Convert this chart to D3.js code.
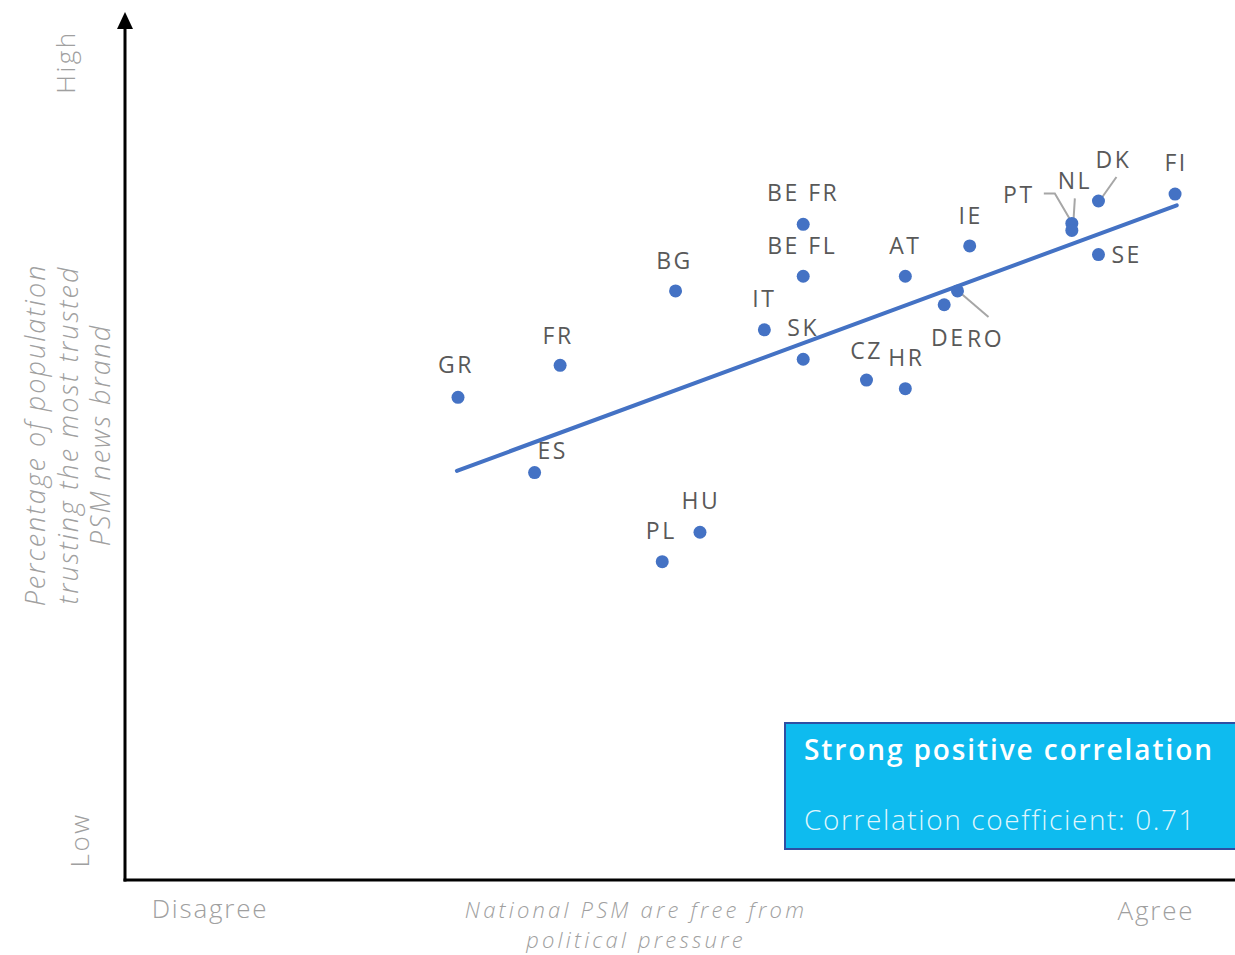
<!DOCTYPE html>
<html>
<head>
<meta charset="utf-8">
<script src="https://cdn.jsdelivr.net/npm/d3@7"></script>
<style>
  body { margin: 0; background: #ffffff; }
  svg { display: block; }
</style>
</head>
<body>
<svg id="chart" width="1235" height="955"></svg>
<script>
// Countries (and Belgian communities) plotted
const countries = ["GR", "FR", "ES", "BG", "PL", "HU", "IT", "SK", "BE FR", "BE FL",
                   "CZ", "HR", "AT", "IE", "DE", "RO", "PT", "NL", "DK", "SE", "FI"];
// Agreement that national PSM are free from political pressure (relative scale 0-100)
const freedomScores = [30.0, 39.2, 36.9, 49.6, 48.4, 51.8, 57.6, 61.1, 61.1, 61.1,
                       66.8, 70.3, 70.3, 76.1, 73.8, 75.0, 85.3, 85.3, 87.7, 87.7, 94.6];
// Share of population trusting the most trusted PSM news brand (relative scale 0-100)
const trustScores = [55.8, 59.5, 47.1, 68.1, 36.8, 40.2, 63.6, 60.2, 75.8, 69.8,
                     57.8, 56.8, 69.8, 73.3, 66.5, 68.1, 75.9, 75.1, 78.5, 72.3, 79.3];
// Linear trend endpoints
const trendX = [29.9, 94.75];
const trendY = [47.3, 78.0];
const correlation = 0.71;

// Label placement (centre of label relative to the dot)
const labelPos = {
  "GR": [-2, -32], "FR": [-2, -29], "ES": [18, -22], "BG": [-1, -30],
  "PL": [-1, -31], "HU": [1, -31], "IT": [0, -31], "SK": [0, -31],
  "BE FR": [0, -31], "BE FL": [-1, -30], "CZ": [0, -29], "HR": [1, -31],
  "AT": [0, -30], "IE": [1, -30], "DE": [4, 33], "RO": [28, 48],
  "PT": [-53, -28], "NL": [3, -49], "DK": [15, -41], "SE": [13, 0, "start"],
  "FI": [1, -31]
};
// Leader lines for crowded points (offsets from the dot)
const leaders = {
  "PT": [[-28, -30], [-17, -30], [0, -1]],
  "NL": [[3, -32], [1, 0]],
  "DK": [[18, -24], [1, 0]],
  "RO": [[3, 2], [31, 26]]
};

const width = 1235, height = 955;
const svg = d3.select("#chart");

const x = d3.scaleLinear().domain([0, 100]).range([125, 1235]);
const y = d3.scaleLinear().domain([0, 100]).range([880, 15]);

const blue = "#4472c4";
const font = "'Open Sans', Lato, sans-serif";
const axisGray = "#a0a0a0";

// Axes: vertical with arrow head, horizontal to the edge
svg.append("line")
  .attr("x1", x(0)).attr("x2", x(0))
  .attr("y1", y(0) + 1.5).attr("y2", 26)
  .attr("stroke", "#000").attr("stroke-width", 3);
svg.append("path")
  .attr("d", `M${x(0) - 8},29 L${x(0)},12 L${x(0) + 8},29 Z`)
  .attr("fill", "#000");
svg.append("line")
  .attr("x1", x(0) - 1.5).attr("x2", width)
  .attr("y1", y(0)).attr("y2", y(0))
  .attr("stroke", "#000").attr("stroke-width", 3);

// Y-axis end labels
svg.append("text")
  .attr("transform", `translate(75,62) rotate(-90)`)
  .attr("text-anchor", "middle")
  .attr("font-family", font).attr("font-weight", 300)
  .attr("font-size", 26).attr("letter-spacing", 2.5)
  .attr("fill", axisGray).text("High");
svg.append("text")
  .attr("transform", `translate(89,840) rotate(-90)`)
  .attr("text-anchor", "middle")
  .attr("font-family", font).attr("font-weight", 300)
  .attr("font-size", 26).attr("letter-spacing", 2.5)
  .attr("fill", axisGray).text("Low");

// Y-axis title
const yTitle = ["Percentage of population", "trusting the most trusted", "PSM news brand"];
svg.append("g")
  .attr("transform", "translate(0,435)")
  .selectAll("text").data(yTitle).join("text")
  .attr("transform", (d, i) => `translate(${45 + i * 32.5},0) rotate(-90)`)
  .attr("text-anchor", "middle")
  .attr("font-family", font).attr("font-weight", 300).attr("font-style", "italic")
  .attr("font-size", 27).attr("letter-spacing", 2)
  .attr("fill", axisGray).text(d => d);

// X-axis end labels and title
svg.append("text")
  .attr("x", 210).attr("y", 918)
  .attr("text-anchor", "middle")
  .attr("font-family", font).attr("font-weight", 300)
  .attr("font-size", 26).attr("letter-spacing", 1.8)
  .attr("fill", axisGray).text("Disagree");
svg.append("text")
  .attr("x", 1156).attr("y", 920)
  .attr("text-anchor", "middle")
  .attr("font-family", font).attr("font-weight", 300)
  .attr("font-size", 26).attr("letter-spacing", 1.8)
  .attr("fill", axisGray).text("Agree");
const xTitle = ["National PSM are free from", "political pressure"];
svg.append("g").selectAll("text").data(xTitle).join("text")
  .attr("x", 636).attr("y", (d, i) => 918 + i * 30)
  .attr("text-anchor", "middle")
  .attr("font-family", font).attr("font-weight", 300).attr("font-style", "italic")
  .attr("font-size", 22).attr("letter-spacing", 3.2)
  .attr("fill", axisGray).text(d => d);

// Trend line
svg.append("line")
  .attr("x1", x(trendX[0])).attr("y1", y(trendY[0]))
  .attr("x2", x(trendX[1])).attr("y2", y(trendY[1]))
  .attr("stroke", blue).attr("stroke-width", 4).attr("stroke-linecap", "round");

const points = countries.map((c, i) => ({ name: c, fx: freedomScores[i], ty: trustScores[i] }));

// Leader lines
svg.append("g").selectAll("polyline")
  .data(points.filter(p => leaders[p.name]))
  .join("polyline")
  .attr("points", p => leaders[p.name].map(o => `${x(p.fx) + o[0]},${y(p.ty) + o[1]}`).join(" "))
  .attr("fill", "none").attr("stroke", "#a6a6a6").attr("stroke-width", 2);

// Dots
svg.append("g").selectAll("circle").data(points).join("circle")
  .attr("cx", p => x(p.fx)).attr("cy", p => y(p.ty)).attr("r", 6.5)
  .attr("fill", blue);

// Country labels
svg.append("g").selectAll("text").data(points).join("text")
  .attr("x", p => x(p.fx) + labelPos[p.name][0])
  .attr("y", p => y(p.ty) + labelPos[p.name][1] + 8)
  .attr("text-anchor", p => labelPos[p.name][2] || "middle")
  .attr("font-family", font).attr("font-size", 23).attr("letter-spacing", 2.5)
  .attr("fill", "#595959").text(p => p.name);

// Correlation call-out box
const box = svg.append("g");
box.append("rect")
  .attr("x", 785).attr("y", 723).attr("width", 470).attr("height", 126)
  .attr("fill", "#0ebbef").attr("stroke", "#2e4fa3").attr("stroke-width", 2);
box.append("text")
  .attr("x", 804).attr("y", 760)
  .attr("font-family", font).attr("font-weight", 600)
  .attr("font-size", 28).attr("letter-spacing", 1.9)
  .attr("fill", "#ffffff").text("Strong positive correlation");
box.append("text")
  .attr("x", 804).attr("y", 830)
  .attr("font-family", font).attr("font-weight", 300)
  .attr("font-size", 28).attr("letter-spacing", 1.6)
  .attr("fill", "#dff6fd").text(`Correlation coefficient: ${correlation}`);
</script>
</body>
</html>
